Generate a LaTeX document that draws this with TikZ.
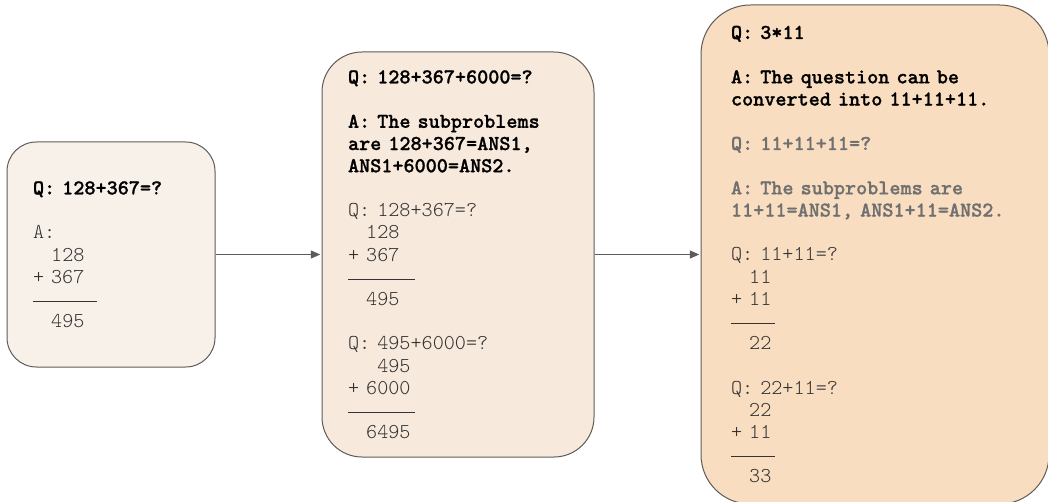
\documentclass[tikz,border=0pt]{standalone}
\usepackage{fontspec}
\setmonofont{lmmonolt10-regular}[Extension=.otf,BoldFont=lmmonolt10-bold,
  BoldFeatures={FakeBold=1}]
\usetikzlibrary{positioning,arrows.meta}
\definecolor{edgegray}{HTML}{5F5B58}
\definecolor{boxa}{HTML}{F8F1EA}
\definecolor{boxb}{HTML}{F7E9DB}
\definecolor{boxc}{HTML}{F8DDC0}
\definecolor{txtgray}{HTML}{333333}
\definecolor{fadegray}{HTML}{707070}
\newcommand{\skipline}{\\[\baselineskip]}
\newcommand{\sumrule}[1]{\rule[2.5pt]{#1}{0.75pt}}
\newcommand{\qhead}[1]{\textbf{\textcolor{black}{#1}}}
\newcommand{\qfade}[1]{\textbf{\textcolor{fadegray}{#1}}}

\begin{document}
\begin{tikzpicture}[x=0.75pt,y=0.75pt,shorten >=1pt,node distance=79.5pt,
    >={Triangle[length=7pt,width=6pt]}]
    \tikzset{prompt/.style={draw=edgegray,line width=0.75pt,align=left,inner ysep=0pt,
        font=\ttfamily\fontsize{15.86}{16.65}\selectfont\frenchspacing,text=txtgray}}
    \useasboundingbox (0,0) rectangle (1048,-502);
    \node[prompt,fill=boxa,rounded corners=22pt,text width=117pt,inner xsep=19.5pt,
      minimum height=168.75pt] (p1) at (111,-254.5) {%
      \qhead{Q: 128+367=?}\skipline
      A:\\
      \phantom{+ }128\\
      + 367\\
      \sumrule{48pt}\\
      \phantom{+ }495};
    \node[prompt,fill=boxb,rounded corners=30pt,text width=165pt,inner xsep=19.5pt,
      minimum height=303.75pt] (p2) [right = of p1] {%
      \qhead{Q: 128+367+6000=?}\skipline
      \qhead{A: The subproblems}\\
      \qhead{are 128+367=ANS1,}\\
      \qhead{ANS1+6000=ANS2.}\skipline
      Q: 128+367=?\\
      \phantom{+ }128\\
      + 367\\
      \sumrule{50pt}\\
      \phantom{+ }495\skipline
      Q: 495+6000=?\\
      \phantom{+ 6}495\\
      + 6000\\
      \sumrule{50pt}\\
      \phantom{+ }6495};
    \node[prompt,fill=boxc,rounded corners=37pt,text width=216pt,inner xsep=22.5pt,
      minimum height=374.25pt] (p3) [right = of p2] {%
      \qhead{Q: 3*11}\skipline
      \qhead{A: The question can be}\\
      \qhead{converted into 11+11+11.}\skipline
      \qfade{Q: 11+11+11=?}\skipline
      \qfade{A: The subproblems are}\\
      \qfade{11+11=ANS1, ANS1+11=ANS2.}\skipline
      Q: 11+11=?\\
      \phantom{+ }11\\
      + 11\\
      \sumrule{33pt}\\
      \phantom{+ }22\skipline
      Q: 22+11=?\\
      \phantom{+ }22\\
      + 11\\
      \sumrule{33pt}\\
      \phantom{+ }33};
    \path[->,draw=edgegray,fill=edgegray,line width=0.75pt]
    (p1) edge (p2)
    (p2) edge (p3)
    ;
\end{tikzpicture}
\end{document}
